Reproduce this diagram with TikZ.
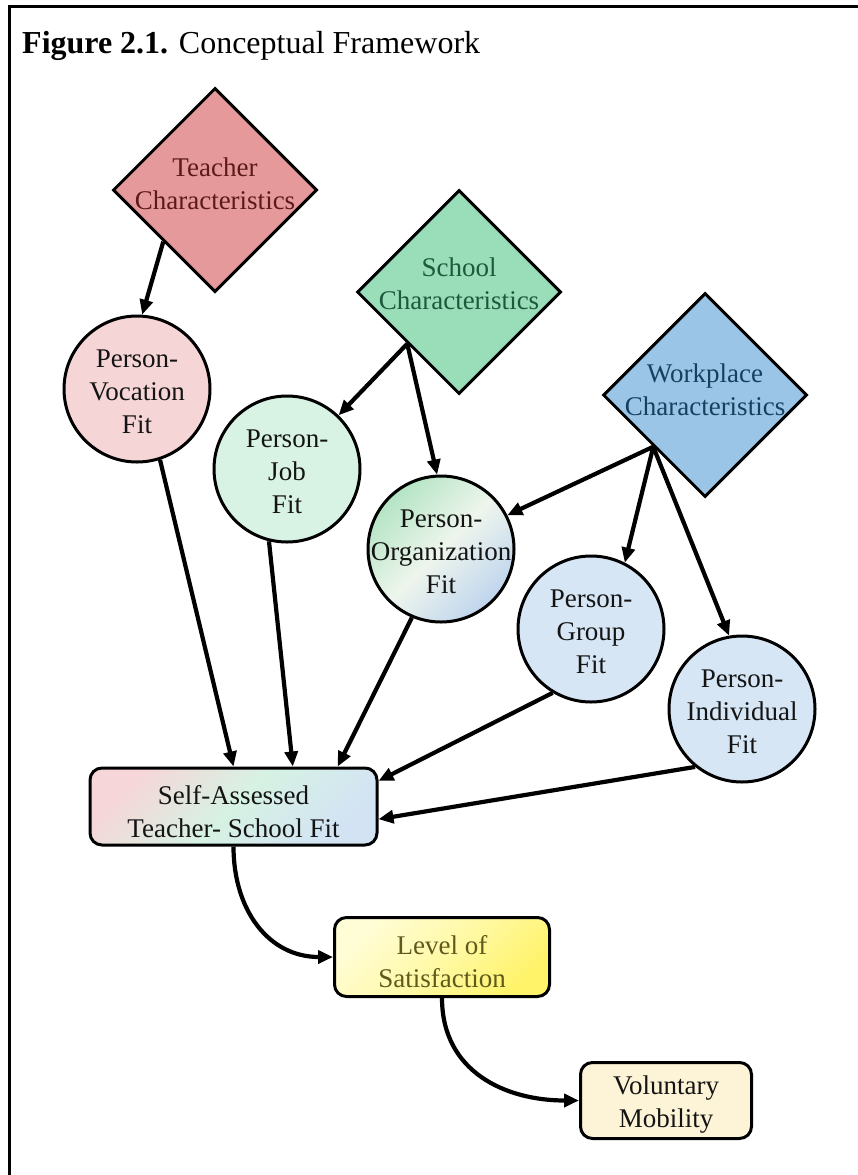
\documentclass[tikz,border=0pt]{standalone}
\usepackage{fontspec}
\setmainfont{Liberation Serif}
\usetikzlibrary{shapes.geometric,arrows.meta}
\definecolor{tfill}{HTML}{E6999A}
\definecolor{ttext}{HTML}{5C1A1B}
\definecolor{sfill}{HTML}{99DDB9}
\definecolor{stext}{HTML}{1D5A3C}
\definecolor{wfill}{HTML}{9BC5E7}
\definecolor{wtext}{HTML}{17405F}
\definecolor{vocfill}{HTML}{F6D5D6}
\definecolor{jobfill}{HTML}{D8F2E3}
\definecolor{bluefill}{HTML}{D6E6F5}
\definecolor{orgA}{HTML}{B3E4C4}
\definecolor{orgB}{HTML}{EEF5EC}
\definecolor{orgC}{HTML}{BFD5EE}
\definecolor{saA}{HTML}{F6D6D8}
\definecolor{saB}{HTML}{D6F2E3}
\definecolor{saC}{HTML}{D3E3F4}
\definecolor{lvA}{HTML}{FFFDD6}
\definecolor{lvB}{HTML}{FFF9A6}
\definecolor{lvC}{HTML}{FFF36A}
\definecolor{lvtext}{HTML}{5E5A1E}
\definecolor{vmfill}{HTML}{FDF3D7}
\definecolor{dark}{HTML}{141414}
\begin{document}
\begin{tikzpicture}[x=1pt,y=-1pt,
  every node/.style={font=\fontsize{27}{33}\selectfont},
  diam/.style={diamond, aspect=1, draw=black, line width=3pt, minimum width=204pt, minimum height=204pt, inner sep=0pt},
  circ/.style={circle, draw=black, line width=3pt, minimum size=146pt, inner sep=0pt},
  txt/.style={align=center, inner sep=0pt},
  box/.style={rectangle, rounded corners=12pt, draw=black, line width=3pt, inner sep=0pt},
  arr/.style={line width=4.2pt, -{Triangle[length=15pt,width=13pt]}},
]
\useasboundingbox (0,0) rectangle (858,1175);
\fill[white] (0,0) rectangle (858,1175);
\draw[line width=3pt] (9.5,1175) -- (9.5,6.5) -- (858,6.5);
\node[anchor=base west, inner sep=0pt, font=\fontsize{32}{38}\selectfont, text=black] (title) at (22,53) {\textbf{Figure 2.1.} Conceptual Framework};

% diamonds
\node[diam, fill=tfill] (T) at (215,190) {};
\node[txt, text=ttext] (Tt) at (215,184) {Teacher\\Characteristics};
\node[diam, fill=sfill] (S) at (459,292) {};
\node[txt, text=stext] (St) at (459,284) {School\\Characteristics};
\node[diam, fill=wfill] (W) at (705,395) {};
\node[txt, text=wtext] (Wt) at (705,390) {Workplace\\Characteristics};

% circles
\node[circ, fill=vocfill] (V) at (137,389) {};
\node[txt, text=dark] (Vt) at (137,392) {Person-\\Vocation\\Fit};
\node[circ, fill=jobfill] (J) at (287,469) {};
\node[txt, text=dark] (Jt) at (287,472) {Person-\\Job\\Fit};
\node[circ, top color=orgA, bottom color=orgC, middle color=orgB, shading angle=45, draw=black] (O) at (441,549) {};
\node[txt, text=dark] (Ot) at (441,552) {Person-\\Organization\\Fit};
\node[circ, fill=bluefill] (G) at (591,629) {};
\node[txt, text=dark] (Gt) at (591,632) {Person-\\Group\\Fit};
\node[circ, fill=bluefill] (I) at (742,709) {};
\node[txt, text=dark] (It) at (742,712) {Person-\\Individual\\Fit};

% boxes
\node[box, minimum width=287pt, minimum height=77pt, top color=saA, bottom color=saC, middle color=saB, shading angle=45, draw=black] (SA) at (233.5,806.5) {};
\node[txt, text=dark] (SAt) at (233.5,812) {Self-Assessed\\Teacher- School Fit};
\node[box, minimum width=215pt, minimum height=79pt, top color=lvA, bottom color=lvC, middle color=lvB, shading angle=45, draw=black] (L) at (442,957) {};
\node[txt, text=lvtext] (Lt) at (442,962) {Level of\\Satisfaction};
\node[box, minimum width=171pt, minimum height=76pt, fill=vmfill] (VM) at (666,1100.5) {};
\node[txt, text=dark] (VMt) at (666,1105) {Voluntary\\Mobility};

% arrows
\draw[arr] (T.south west) -- (V.86);
\draw[arr] (S.south west) -- (J);
\draw[arr] (S.south west) -- (O.93);
\draw[arr] (W.south west) -- (O.27);
\draw[arr] (W.south west) -- (G.63);
\draw[arr] (W.south west) -- (I.100);
\draw[arr] (V.-72) -- (SA.north);
\draw[arr] (J.-104) -- (SA.34);
\draw[arr] (O.-113) -- (SA.21);
\draw[arr] (G.-121) -- (SA.10);
\draw[arr] (I.-129) -- (SA.-5);
\draw[arr] (SA.south) to[out=-90, in=180, looseness=1.1] (L.west);
\draw[arr] (L.south) to[out=-90, in=180, looseness=1.1] (VM.west);
\end{tikzpicture}
\end{document}
